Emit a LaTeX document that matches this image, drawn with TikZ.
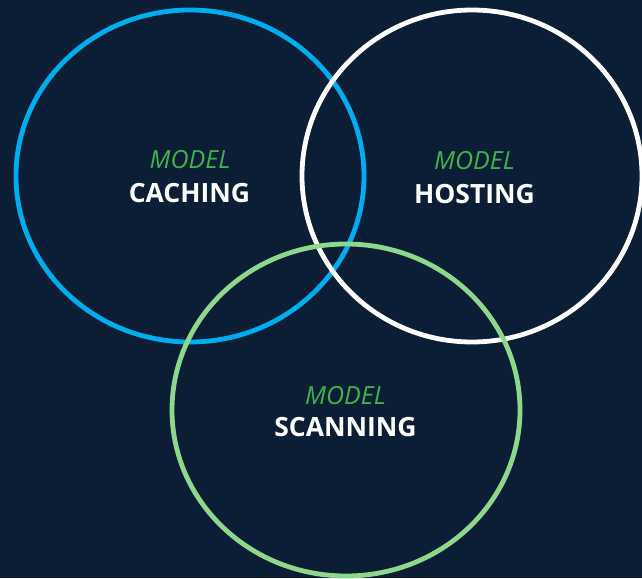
\documentclass[tikz,border=0pt]{standalone}
\usepackage{fontspec}
\setmainfont{Open Sans}
\definecolor{bgnavy}{HTML}{0C1D36}
\definecolor{ringblue}{HTML}{00AEEF}
\definecolor{ringgreen}{HTML}{8CD98C}
\definecolor{labelgreen}{HTML}{3DB54A}
\begin{document}
\begin{tikzpicture}[x=1pt,y=-1pt,
  ring/.style={line width=4.8pt},
  tag/.style={anchor=base, inner sep=0pt, text=labelgreen,
    font=\fontsize{25}{30}\selectfont\itshape},
  title/.style={anchor=base, inner sep=0pt, text=white,
    font=\fontsize{26.5}{32}\selectfont\bfseries}]
\fill[bgnavy] (0,0) rectangle (642,578);
\useasboundingbox (0,0) rectangle (642,578);
% the three rings
\draw[ring, ringblue] (190,176) ellipse [x radius=174, y radius=166];
\draw[ring, white] (472,176) ellipse [x radius=170, y radius=166];
\draw[ring, ringgreen] (346,410) ellipse [x radius=174, y radius=166];
% labels
\node[tag] (caching-tag) at (190,168) {MODEL};
\node[title] (caching) at (189.5,202) {CACHING};
\node[tag] (hosting-tag) at (474.5,169) {MODEL};
\node[title] (hosting) at (474.5,203) {HOSTING};
\node[tag] (scanning-tag) at (345.5,404) {MODEL};
\node[title] (scanning) at (345.5,436) {SCANNING};
\end{tikzpicture}
\end{document}
